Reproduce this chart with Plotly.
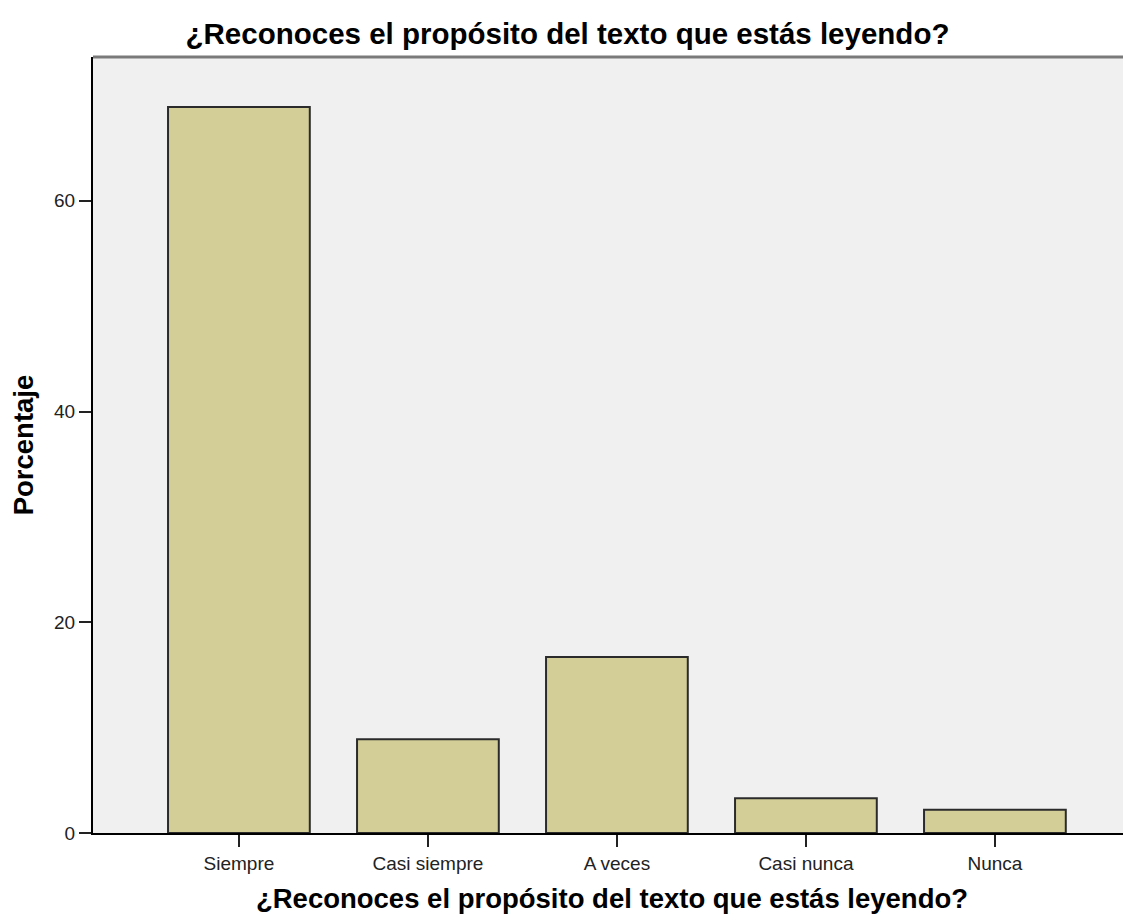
import plotly.graph_objects as go

categories = ["Siempre", "Casi siempre", "A veces", "Casi nunca", "Nunca"]
percentages = [68.9, 8.9, 16.7, 3.3, 2.2]
y_ticks = [0, 20, 40, 60]
title_text = "¿Reconoces el propósito del texto que estás leyendo?"
y_title = "Porcentaje"

fig = go.Figure()
fig.add_trace(go.Bar(
    x=categories,
    y=percentages,
    width=0.75,
    marker=dict(color="#D3CE97", line=dict(color="#2b2b2b", width=2)),
    hoverinfo="x+y",
))

# The page body adds an 8px offset; the figure is sized to fill the window.
fig.update_layout(
    width=1123, height=913,
    margin=dict(l=85, r=0, t=49, b=88, autoexpand=False),
    paper_bgcolor="white",
    plot_bgcolor="#F0F0F0",
    font=dict(family="Liberation Sans, Arial, sans-serif", color="black"),
    showlegend=False,
    title=dict(
        text="<b>" + title_text + "</b>",
        font=dict(size=29.5, color="black"),
        x=0.4982, xanchor="center",
        y=1 - 26 / 913, yanchor="middle", yref="container",
    ),
    xaxis=dict(
        range=[-0.772, 4.72],
        showgrid=False, zeroline=False,
        showline=True, linecolor="black", linewidth=2,
        ticks="outside", ticklen=12, tickwidth=2, tickcolor="#222222",
        tickfont=dict(size=19, color="#222222"),
        title=dict(text="<b>" + title_text + "</b>", font=dict(size=27.5, color="black"), standoff=16),
    ),
    yaxis=dict(
        range=[0, 73.65],
        tickvals=y_ticks,
        showgrid=False, zeroline=False,
        showline=True, linecolor="black", linewidth=2,
        ticks="outside", ticklen=12, tickwidth=2, tickcolor="#222222",
        tickfont=dict(size=19, color="#222222"),
        title=dict(text="<b>" + y_title + "</b>", font=dict(size=27.5, color="black"), standoff=15),
    ),
)

fig.add_shape(type="line", xref="paper", yref="paper", x0=0, x1=1, y0=1, y1=1,
              line=dict(color="#7a7a7a", width=3))

fig.write_html("out.html")
